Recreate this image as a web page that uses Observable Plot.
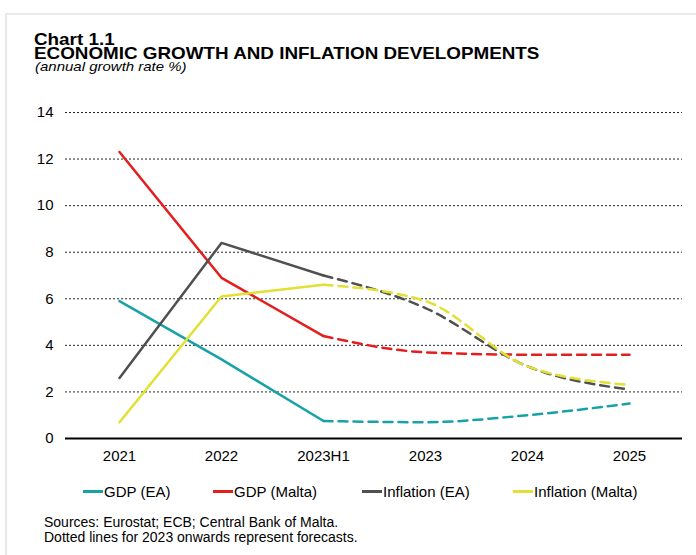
<!DOCTYPE html>
<html>
<head>
<meta charset="utf-8">
<script src="https://cdn.jsdelivr.net/npm/d3@7"></script>
<script src="https://cdn.jsdelivr.net/npm/@observablehq/plot@0.6"></script>
<style>
  html, body { margin: 0; padding: 0; background: #fff; }
  body { width: 696px; height: 555px; position: relative; overflow: hidden; font-family: "Liberation Sans", Arial, sans-serif; color: #000; }
  .frame-top { position: absolute; left: 6px; top: 13px; width: 690px; height: 2px; background: #e9e9e9; }
  .frame-left { position: absolute; left: 5px; top: 13px; width: 2px; height: 542px; background: #e9e9e9; }
  .title { position: absolute; left: 34px; font-weight: bold; font-size: 17px; line-height: 13px; white-space: nowrap; transform: scaleX(1.108); transform-origin: 0 0; }
  .t1 { top: 32.5px; }
  .t2 { top: 47px; }
  .subtitle { position: absolute; left: 35px; top: 60px; font-style: italic; font-size: 13.5px; line-height: 13px; white-space: nowrap; transform: scaleX(1.11); transform-origin: 0 0; }
  #chart { position: absolute; left: 0; top: 95px; }
  .legend { position: absolute; top: 482px; left: 0; width: 696px; height: 18px; font-size: 15px; }
  .legend .item { position: absolute; top: 0; display: flex; align-items: center; height: 18px; white-space: nowrap; }
  .legend .sw { width: 20px; height: 3px; margin-right: 1px; }
  .notes { position: absolute; left: 44px; top: 515px; font-size: 14px; line-height: 15px; white-space: nowrap; }
</style>
</head>
<body>
<div class="frame-top"></div>
<div class="frame-left"></div>
<div class="title t1">Chart 1.1</div>
<div class="title t2">ECONOMIC GROWTH AND INFLATION DEVELOPMENTS</div>
<div class="subtitle">(annual growth rate %)</div>
<div id="chart"></div>
<div class="legend" id="legend"></div>
<div class="notes">Sources: Eurostat; ECB; Central Bank of Malta.<br>Dotted lines for 2023 onwards represent forecasts.</div>
<script>
const categories = ["2021", "2022", "2023H1", "2023", "2024", "2025"];
const seriesNames = ["GDP (EA)", "GDP (Malta)", "Inflation (EA)", "Inflation (Malta)"];
const seriesColors = ["#17a2a6", "#e41e1e", "#505050", "#e2e032"];
const gdpEA = [5.9, 3.4, 0.75, 0.7, 1.0, 1.5];
const gdpMalta = [12.3, 6.9, 4.4, 3.7, 3.6, 3.6];
const inflationEA = [2.6, 8.4, 7.0, 5.6, 3.1, 2.1];
const inflationMalta = [0.7, 6.1, 6.6, 5.9, 3.1, 2.3];
const yTicks = [0, 2, 4, 6, 8, 10, 12, 14];
const forecastStart = 2; // index of 2023H1, where dashed forecast lines begin

const allValues = [gdpEA, gdpMalta, inflationEA, inflationMalta];
const actualRows = [];
const forecastRows = [];
allValues.forEach((vals, s) => {
  vals.forEach((v, i) => {
    const row = { series: seriesNames[s], cat: categories[i], value: v };
    if (i <= forecastStart) actualRows.push(row);
    if (i >= forecastStart) forecastRows.push(row);
  });
});

const plot = Plot.plot({
  width: 696,
  height: 375,
  marginLeft: 65,
  marginRight: 14,
  marginTop: 17,
  marginBottom: 32,
  style: { fontFamily: "'Liberation Sans', Arial, sans-serif", fontSize: "15px", color: "#000", background: "transparent" },
  x: { type: "point", domain: categories, padding: 0.5, label: null },
  y: { domain: [0, 14], label: null },
  color: { domain: seriesNames, range: seriesColors },
  marks: [
    Plot.ruleY(yTicks.filter(d => d > 0), { stroke: "#000", strokeWidth: 1, strokeDasharray: "2,2", strokeOpacity: 0.85 }),
    Plot.axisY(yTicks, { tickSize: 0, tickPadding: 12, label: null, fontSize: 15 }),
    Plot.axisX({ tickSize: 0, tickPadding: 12, label: null, fontSize: 15 }),
    Plot.line(forecastRows, { x: "cat", y: "value", z: "series", stroke: "series", strokeWidth: 2.5, strokeDasharray: "9,6", curve: "monotone-x" }),
    Plot.line(actualRows, { x: "cat", y: "value", z: "series", stroke: "series", strokeWidth: 2.5 }),
    Plot.ruleY([0], { stroke: "#000", strokeWidth: 2 })
  ]
});
document.getElementById("chart").appendChild(plot);

const legendX = [83, 213, 362, 513];
const legend = document.getElementById("legend");
seriesNames.forEach((name, i) => {
  const item = document.createElement("div");
  item.className = "item";
  item.style.left = legendX[i] + "px";
  const sw = document.createElement("div");
  sw.className = "sw";
  sw.style.background = seriesColors[i];
  const label = document.createElement("span");
  label.textContent = name;
  item.appendChild(sw);
  item.appendChild(label);
  legend.appendChild(item);
});
</script>
</body>
</html>
